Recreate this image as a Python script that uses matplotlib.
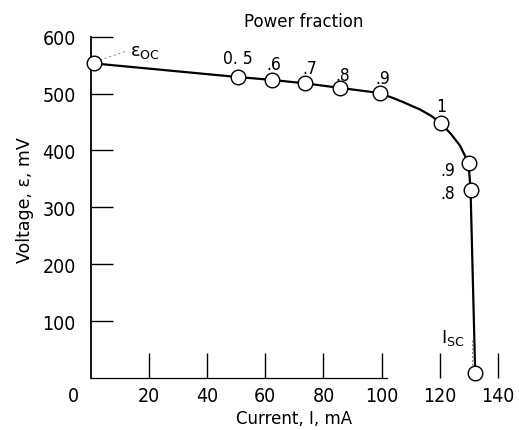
import matplotlib.pyplot as plt

# measured points (current in mA, voltage in mV)
marker_I = [1, 50.6, 62.3, 73.5, 85.7, 99.3, 120.4, 129.9, 130.6, 132.2]
marker_V = [553, 529, 524, 518, 510, 501, 448, 378, 331, 8]

# points
curve_I = [1, 50.6, 62.3, 73.5, 85.7, 99.3, 104.0, 107.4, 113.2, 117.0, 120.4,
           124.0, 126.9, 129.9, 130.6, 132.2]
curve_V = [553, 529, 524, 518, 510, 501, 492, 485, 472, 461, 448,
           428, 409, 378, 331, 8]

# power fraction labels
frac_labels = ['0. 5', '.6', '.7', '.8', '.9', '1', '.9', '.8']
frac_I = [50.6, 63.0, 75.2, 86.7, 100.4, 120.6, 122.8, 122.8]
frac_V = [562, 552, 545, 533, 527, 478, 366, 325]

x_ticks = [20, 40, 60, 80, 100, 120, 140]
y_ticks = [100, 200, 300, 400, 500, 600]

num_kw = dict(family='DejaVu Sans', stretch='condensed', fontsize=14)

fig = plt.figure(figsize=(5.19, 4.31), dpi=100)
ax = fig.add_axes([0.1753, 0.1206, 0.812, 0.792])

ax.plot(curve_I, curve_V, color='black', lw=1.6, zorder=2, clip_on=False)
ax.plot(marker_I, marker_V, 'o', ms=10.5, mfc='white', mec='black', mew=1.0,
        zorder=3, clip_on=False)

ax.set_xlim(0, 145)
ax.set_ylim(0, 600)

for s in ['top', 'right']:
    ax.spines[s].set_visible(False)
ax.spines['left'].set_bounds(0, 600)
ax.spines['bottom'].set_bounds(0, 102)
ax.spines['left'].set_linewidth(1.3)
ax.spines['bottom'].set_linewidth(0.9)

ax.set_xticks(x_ticks)
ax.set_yticks(y_ticks)
ax.set_xticklabels([str(v) for v in x_ticks], **num_kw)
ax.set_yticklabels([str(v) for v in y_ticks], **num_kw)
ax.tick_params(axis='x', direction='in', length=18, width=1.0, pad=5.5)
ax.tick_params(axis='y', direction='in', length=16, width=1.0, pad=11)

ax.annotate('0', xy=(0, 0), xytext=(-18, -8), textcoords='offset pixels',
            ha='center', va='top', annotation_clip=False, **num_kw)

for lab, xi, yi in zip(frac_labels, frac_I, frac_V):
    ax.text(xi, yi, lab, ha='center', va='center', fontsize=12.5,
            family='DejaVu Sans', stretch='condensed', clip_on=False)

ax.text(73.3, 627, 'Power fraction', ha='center', va='center', fontsize=12,
        clip_on=False)

# open-circuit voltage label
ax.plot([3.1, 12.4], [559, 575], color='gray', lw=0.7, ls=(0, (2, 3)),
        clip_on=False)
ax.text(13.5, 575, r'ε$_{\mathrm{OC}}$', ha='left', va='center',
        fontsize=13, clip_on=False)

# short-circuit current label
ax.plot([131.1, 131.1], [66, 22], color='gray', lw=0.7, ls=(0, (2, 2)),
        clip_on=False)
ax.text(124.5, 72, r'$\mathrm{I_{SC}}$', ha='center', va='center',
        fontsize=13, clip_on=False)

fig.text(25 / 519, 1 - 200 / 431, 'Voltage, ε, mV', rotation=90,
         ha='center', va='center', fontsize=12.5)
fig.text(294 / 519, 1 - 419 / 431, 'Current, I, mA', ha='center',
         va='center', fontsize=12)

fig.savefig('out.png', dpi=100)
